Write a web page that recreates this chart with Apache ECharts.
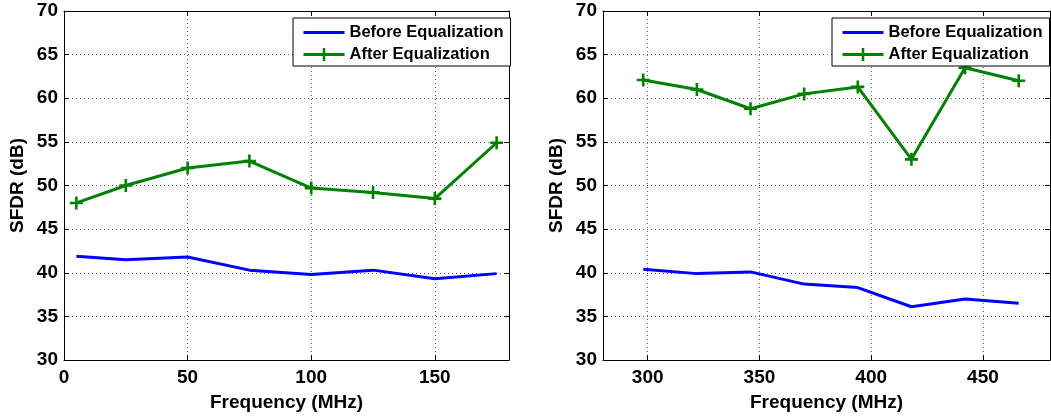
<!DOCTYPE html>
<html>
<head>
<meta charset="utf-8">
<script src="https://cdn.jsdelivr.net/npm/echarts@6/dist/echarts.min.js"></script>
<style>
html,body{margin:0;padding:0;background:#fff;}
#chart{width:1051px;height:417px;}
</style>
</head>
<body>
<div id="chart"></div>
<script>
// ---- data ----
const freqLeft = [5, 25, 50, 75, 100, 125, 150, 175];
const beforeLeft = [41.9, 41.5, 41.8, 40.3, 39.8, 40.3, 39.3, 39.9];
const afterLeft = [48.0, 50.0, 52.0, 52.8, 49.7, 49.2, 48.5, 54.9];

const freqRight = [298, 322, 346, 370, 394, 418, 442, 466];
const beforeRight = [40.4, 39.9, 40.1, 38.7, 38.3, 36.1, 37.0, 36.5];
const afterRight = [62.1, 61.0, 58.8, 60.5, 61.3, 53.0, 63.5, 62.0];

const yTicks = [30, 35, 40, 45, 50, 55, 60, 65, 70];
const xTicksLeft = [0, 50, 100, 150];
const xTicksRight = [300, 350, 400, 450];

const seriesNames = ['Before Equalization', 'After Equalization'];

// ---- styling ----
const FONT = '"Liberation Sans", Arial, sans-serif';
const BLUE = '#0000ff';
const GREEN = '#008000';
const PLUS = 'path://M4,0H6V4H10V6H6V10H4V6H0V4H4Z';

function pair(a, b) { return a.map((v, i) => [v, b[i]]); }

const labelStyle = { color: '#000', fontSize: 19, fontWeight: 'bold', fontFamily: FONT };
const nameStyle = { color: '#000', fontSize: 19, fontWeight: 'bold', fontFamily: FONT };
const splitDotted = { show: true, lineStyle: { color: '#666', type: [1, 3], width: 1 } };

function mainX(gridIndex, min, max, ticks) {
  return {
    type: 'value', gridIndex, min, max, position: 'bottom',
    name: 'Frequency (MHz)', nameLocation: 'middle', nameGap: 33,
    nameTextStyle: nameStyle,
    axisLine: { show: true, onZero: false, lineStyle: { color: '#000', width: 1 } },
    axisTick: { show: true, inside: true, length: 5, customValues: ticks, lineStyle: { color: '#000' } },
    axisLabel: Object.assign({ margin: 8, customValues: ticks }, labelStyle),
    splitLine: splitDotted
  };
}
function topX(gridIndex, min, max, ticks) {
  return {
    type: 'value', gridIndex, min, max, position: 'top',
    axisLine: { show: true, onZero: false, lineStyle: { color: '#000', width: 1 } },
    axisTick: { show: true, inside: true, length: 5, customValues: ticks, lineStyle: { color: '#000' } },
    axisLabel: { show: false },
    splitLine: { show: false }
  };
}
function mainY(gridIndex) {
  return {
    type: 'value', gridIndex, min: 30, max: 70, position: 'left',
    name: 'SFDR (dB)', nameLocation: 'middle', nameGap: 37,
    nameTextStyle: nameStyle,
    axisLine: { show: true, onZero: false, lineStyle: { color: '#000', width: 1 } },
    axisTick: { show: true, inside: true, length: 5, customValues: yTicks, lineStyle: { color: '#000' } },
    axisLabel: Object.assign({ margin: 6, customValues: yTicks }, labelStyle),
    splitLine: splitDotted
  };
}
function rightY(gridIndex) {
  return {
    type: 'value', gridIndex, min: 30, max: 70, position: 'right',
    axisLine: { show: true, onZero: false, lineStyle: { color: '#000', width: 1 } },
    axisTick: { show: true, inside: true, length: 5, customValues: yTicks, lineStyle: { color: '#000' } },
    axisLabel: { show: false },
    splitLine: { show: false }
  };
}

function lineSeries(name, xi, yi, data, color, marker) {
  return {
    name, type: 'line', xAxisIndex: xi, yAxisIndex: yi, data,
    showSymbol: !!marker, symbol: marker ? PLUS : 'none', symbolSize: 13,
    lineStyle: { color, width: 3 },
    itemStyle: { color },
    animation: false
  };
}

function legend(left) {
  return {
    data: [
      { name: seriesNames[0], itemStyle: { opacity: 0 } },
      { name: seriesNames[1] }
    ],
    orient: 'vertical', left, top: 18,
    backgroundColor: '#fff', borderColor: '#000', borderWidth: 1,
    padding: [6, 7, 3, 9], itemWidth: 41, itemHeight: 16, itemGap: 5,
    lineStyle: { width: 3 },
    textStyle: { color: '#000', fontSize: 16.5, fontWeight: 'bold', fontFamily: FONT },
    selectedMode: false
  };
}

const chart = echarts.init(document.getElementById('chart'), null, { renderer: 'canvas' });
chart.setOption({
  backgroundColor: '#fff',
  animation: false,
  grid: [
    { left: 64, top: 11, width: 445, height: 349 },
    { left: 603, top: 11, width: 447, height: 349 }
  ],
  xAxis: [
    mainX(0, 0, 180, xTicksLeft),
    topX(0, 0, 180, xTicksLeft),
    mainX(1, 280, 480, xTicksRight),
    topX(1, 280, 480, xTicksRight)
  ],
  yAxis: [mainY(0), rightY(0), mainY(1), rightY(1)],
  legend: [legend(293), legend(832)],
  series: [
    lineSeries(seriesNames[0], 0, 0, pair(freqLeft, beforeLeft), BLUE, false),
    lineSeries(seriesNames[1], 0, 0, pair(freqLeft, afterLeft), GREEN, true),
    lineSeries(seriesNames[0], 2, 2, pair(freqRight, beforeRight), BLUE, false),
    lineSeries(seriesNames[1], 2, 2, pair(freqRight, afterRight), GREEN, true)
  ]
});
</script>
</body>
</html>
